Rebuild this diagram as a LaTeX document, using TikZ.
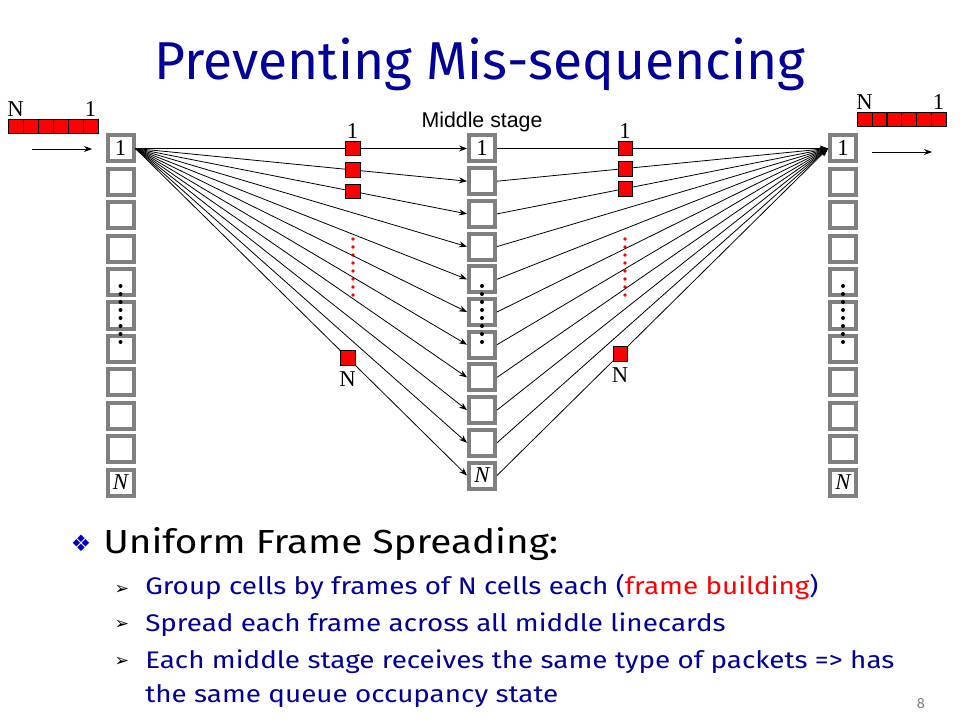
\documentclass[tikz,border=0pt]{standalone}
\usepackage{fontspec}
\setmainfont{Fira Sans}
\newfontfamily\bodyfont[FakeStretch=1.16]{Fira Sans}
\newfontfamily\arialfont{Liberation Sans}
\newfontfamily\timesfont{Liberation Serif}
\newfontfamily\dingfont{DejaVu Sans}
\usetikzlibrary{positioning,arrows.meta}
\definecolor{slideblue}{RGB}{0,0,153}
\definecolor{bulletblue}{RGB}{0,0,204}
\definecolor{boxgray}{RGB}{128,128,128}
\begin{document}
\begin{tikzpicture}[x=0.75pt,y=-0.75pt,line cap=butt,line join=miter,>={Stealth[length=6pt,width=4.5pt]}]
 \tikzset{portbox/.style={draw=boxgray,fill=white,line width=3pt,minimum size=19.5pt,inner sep=0pt,
   font=\timesfont\fontsize{17}{17}\selectfont},
 redcell/.style={draw=black,fill=red,line width=0.4pt,minimum size=10.9pt,inner sep=0pt},
 numlabel/.style={inner sep=1.5pt,font=\timesfont\fontsize{17}{17}\selectfont},
 fan/.style={->,line width=0.6pt},
 bodytext/.style={anchor=base west,inner sep=0pt,text=slideblue,font=\bodyfont\fontsize{18}{18}\selectfont},
 subbullet/.style={inner sep=0pt,text=black,font=\dingfont\fontsize{13}{13}\selectfont}
 }
 \useasboundingbox (0,0) rectangle (960,720);
 % title
 \node[anchor=base,inner sep=0pt,text=slideblue,font=\fontsize{40}{40}\selectfont] (title) at (480,80) {Preventing Mis-sequencing};
 % input, middle and output linecards
 \foreach \i in {1,...,11}{
  \node[portbox] (l\i) at (120.5,{148.5+(\i-1)*33.4}) {\ifnum\i=1 1\fi\ifnum\i=11 \itshape N\fi};
  \node[portbox] (m\i) at (482,{148.5+(\i-1)*32.7}) {\ifnum\i=1 1\fi\ifnum\i=11 \itshape N\fi};
  \node[portbox] (r\i) at (843,{148.5+(\i-1)*33.4}) {\ifnum\i=1 1\fi\ifnum\i=11 \itshape N\fi};
 }
 \node[above=1pt of m1,inner sep=0pt,font=\arialfont\fontsize{16}{16}\selectfont] (midlabel) {Middle stage};
 \foreach \k in {0,...,7}{
  \fill (120.5,{286+\k*8}) circle (1.5pt) (482,{286+\k*8}) circle (1.5pt) (843,{286+\k*8}) circle (1.5pt);
  \fill[red] (353,{239+\k*8}) circle (1.4pt) (625,{239+\k*8}) circle (1.4pt);
 }
 % spreading
 \foreach \i in {1,...,11}{
  \draw[fan] (l1.east) -- (m\i.west);
  \draw[fan] (m\i.east) -- (r1.west);
 }
 % one frame on its way
 \path (l1.east) -- (m1.west) node[redcell,pos=.655] (a1) {};
 \path (l1.east) -- (m2.west) node[redcell,pos=.655] (a2) {};
 \path (l1.east) -- (m3.west) node[redcell,pos=.655] (a3) {};
 \path (l1.east) -- (m11.west) node[redcell,pos=.64] (aN) {};
 \path (m1.east) -- (r1.west) node[redcell,pos=.387] (b1) {};
 \path (m2.east) -- (r1.west) node[redcell,pos=.387] (b2) {};
 \path (m3.east) -- (r1.west) node[redcell,pos=.387] (b3) {};
 \path (m11.east) -- (r1.west) node[redcell,pos=.372] (bN) {};
 \node[numlabel,above=0pt of a1] (a1lab) {1};
 \node[numlabel,above=0pt of b1] (b1lab) {1};
 \node[numlabel,below=3pt of aN] (aNlab) {N};
 \node[numlabel,below=3pt of bN] (bNlab) {N};
 % arriving and leaving frames
 \foreach \j in {0,...,5}{
  \node[redcell] (p\j) at ({15.5+\j*15},126.5) {};
  \node[redcell] (s\j) at ({864.5+\j*14.8},119.5) {};
 }
 \node[numlabel,above=0pt of p0] (pN) {N};
 \node[numlabel,above=0pt of p5] (p1) {1};
 \node[numlabel,above=0pt of s0] (sN) {N};
 \node[numlabel,above=0pt of s5] (s1) {1};
 \coordinate (inA) at (32,149);
 \coordinate (inB) at (92,149);
 \coordinate (outA) at (872,152);
 \coordinate (outB) at (932,152);
 \draw[->,line width=0.6pt] (inA) -- (inB);
 \draw[->,line width=0.6pt] (outA) -- (outB);
 % bullets
 \node[inner sep=0pt,text=bulletblue,font=\dingfont\fontsize{17}{17}\selectfont] (bul) at (81,543) {❖};
 \node[anchor=base west,inner sep=0pt,font=\bodyfont\fontsize{25}{25}\selectfont] (head) at (103,553) {Uniform Frame Spreading:};
 \node[bodytext] (t1) at (145,594) {Group cells by frames of N cells each ({\color{red}frame building})};
 \node[bodytext] (t2) at (145,631) {Spread each frame across all middle linecards};
 \node[bodytext] (t3) at (145,668) {Each middle stage receives the same type of packets => has};
 \node[bodytext] (t4) at (145,702) {the same queue occupancy state};
 \node[subbullet] (sb1) at (122,590) {➢};
 \node[subbullet] (sb2) at (122,625) {➢};
 \node[subbullet] (sb3) at (122,662) {➢};
 \node[anchor=base,inner sep=0pt,text=gray,font=\fontsize{11}{11}\selectfont] (pagenum) at (921,708) {8};
\end{tikzpicture}
\end{document}
